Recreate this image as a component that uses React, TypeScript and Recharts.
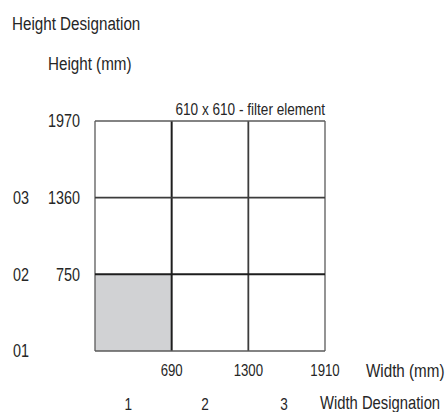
import React from "react";
import { ComposedChart, XAxis, YAxis, ReferenceArea, ReferenceLine } from "recharts";

// grid of 610 x 610 filter elements
const widthEdges = [80, 690, 1300, 1910];
const heightEdges = [140, 750, 1360, 1970];
const widthTicks = [690, 1300, 1910];
const heightTicks = [750, 1360, 1970];
const widthDesignations = ["1", "2", "3"];
const widthDesignationAt = [345, 955, 1585];
const heightDesignations = ["01", "02", "03"];
const heightDesignationAt = [140, 750, 1360];
const filledCellX = [80, 690];
const filledCellY = [140, 750];

const gridData = widthEdges.map((w, i) => ({ width: w, height: heightEdges[i] }));

const FONT = "'Liberation Sans', Arial, sans-serif";
const TEXT = "#262626";
const SQUEEZE = 0.8; // the reference uses a condensed face

// line look by position in the edge list: outer border, first inner, second inner
const edgeStyle = (i: number, n: number) => {
	if (i === 0 || i === n - 1) return { stroke: "#5a5a5a", strokeWidth: 1.3 };
	if (i === 1) return { stroke: "#1e1e1e", strokeWidth: 2 };
	return { stroke: "#3c3c3c", strokeWidth: 1.8 };
};

const Cond = ({ x, y, size, anchor = "start", dy = "0", children }: any) => (
	<text
		transform={`translate(${x},${y}) scale(${SQUEEZE},1)`}
		x={0}
		y={0}
		dy={dy}
		fontSize={size}
		fontFamily={FONT}
		fill={TEXT}
		textAnchor={anchor}
	>
		{children}
	</text>
);

const bottomTick = (size: number, fmt?: (v: number) => string) => (props: any) => {
	const { x, y, payload } = props;
	return (
		<Cond x={x} y={y} size={size} anchor="middle" dy="0.71em">
			{fmt ? fmt(payload.value) : payload.value}
		</Cond>
	);
};

const leftTick = (size: number, fmt?: (v: number) => string) => (props: any) => {
	const { x, y, payload } = props;
	return (
		<Cond x={x} y={y} size={size} anchor="end" dy="0.36em">
			{fmt ? fmt(payload.value) : payload.value}
		</Cond>
	);
};

const App: React.FC = () => {
	const xMin = widthEdges[0];
	const xMax = widthEdges[widthEdges.length - 1];
	const yMin = heightEdges[0];
	const yMax = heightEdges[heightEdges.length - 1];

	return (
		<div style={{ position: "absolute", left: 0, top: 0, width: 446, height: 412, background: "#fff" }}>
			<ComposedChart
				width={446}
				height={412}
				data={gridData}
				margin={{ top: 121, right: 121, bottom: 0, left: 0 }}
			>
				<XAxis
					xAxisId="a-width"
					dataKey="width"
					type="number"
					domain={[xMin, xMax]}
					allowDataOverflow
					ticks={widthTicks}
					height={30}
					axisLine={false}
					tickLine={false}
					tickSize={0}
					tickMargin={13}
					tick={bottomTick(16.5)}
				/>
				<XAxis
					xAxisId="b-des"
					dataKey="width"
					type="number"
					domain={[xMin, xMax]}
					allowDataOverflow
					ticks={widthDesignationAt}
					height={31}
					axisLine={false}
					tickLine={false}
					tickSize={0}
					tickMargin={17}
					tick={bottomTick(17, (v) => widthDesignations[widthDesignationAt.indexOf(v)])}
				/>
				<YAxis
					yAxisId="a-height"
					dataKey="height"
					type="number"
					domain={[yMin, yMax]}
					allowDataOverflow
					ticks={heightTicks}
					width={50}
					axisLine={false}
					tickLine={false}
					tickSize={0}
					tickMargin={15}
					tick={leftTick(18)}
				/>
				<YAxis
					yAxisId="b-des"
					dataKey="height"
					type="number"
					domain={[yMin, yMax]}
					allowDataOverflow
					ticks={heightDesignationAt}
					width={45}
					axisLine={false}
					tickLine={false}
					tickSize={0}
					tickMargin={16}
					tick={leftTick(18, (v) => heightDesignations[heightDesignationAt.indexOf(v)])}
				/>
				<ReferenceArea
					xAxisId="a-width"
					yAxisId="a-height"
					x1={filledCellX[0]}
					x2={filledCellX[1]}
					y1={filledCellY[0]}
					y2={filledCellY[1]}
					fill="#d1d2d4"
					fillOpacity={1}
					stroke="none"
				/>
				{widthEdges.map((v, i) => (
					<ReferenceLine
						key={`x${v}`}
						xAxisId="a-width"
						yAxisId="a-height"
						x={v}
						{...edgeStyle(i, widthEdges.length)}
					/>
				))}
				{heightEdges.map((v, i) => (
					<ReferenceLine
						key={`y${v}`}
						xAxisId="a-width"
						yAxisId="a-height"
						y={v}
						{...edgeStyle(i, heightEdges.length)}
					/>
				))}
			</ComposedChart>
			<svg
				width={446}
				height={412}
				style={{ position: "absolute", left: 0, top: 0, pointerEvents: "none" }}
			>
				<Cond x={12} y={30} size={19}>Height Designation</Cond>
				<Cond x={48} y={70} size={19}>Height (mm)</Cond>
				<Cond x={325} y={115} size={17} anchor="end">610 x 610 - filter element</Cond>
				<Cond x={366} y={377} size={19}>Width (mm)</Cond>
				<Cond x={320} y={409} size={18.5}>Width Designation</Cond>
			</svg>
		</div>
	);
};

export default App;
